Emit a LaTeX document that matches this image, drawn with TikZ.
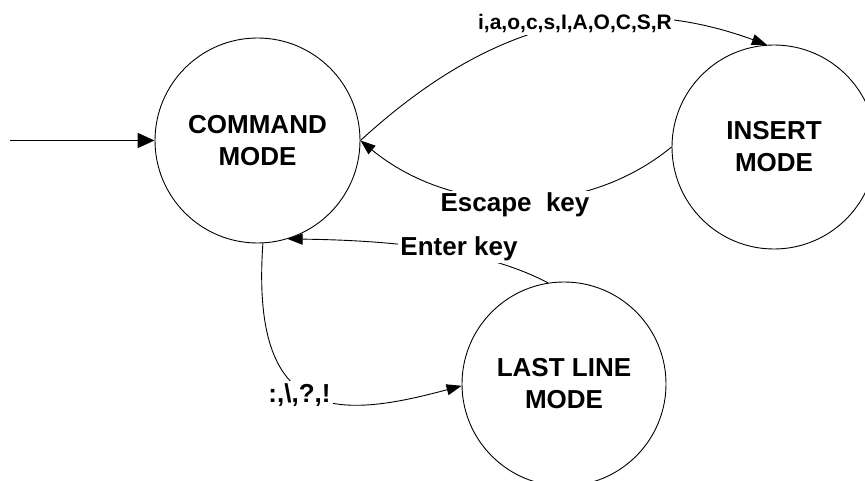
\documentclass[tikz,border=0pt]{standalone}
\usepackage{fontspec}
\setmainfont{Liberation Sans}
\usetikzlibrary{arrows.meta}

\tikzset{
  state/.style={draw, circle, line width=0.9pt, minimum size=#1, inner sep=0pt,
    align=center, font=\bfseries\fontsize{26}{32}\selectfont},
  edge/.style={line width=0.9pt, -{Triangle[length=15pt,width=11pt]}},
  startedge/.style={line width=1.8pt, -{Triangle[length=17pt,width=15pt]}},
  lbl/.style={fill=white, inner sep=2pt, anchor=base, font=\bfseries\fontsize{26}{32}\selectfont},
  smalllbl/.style={lbl, font=\bfseries\fontsize{21}{25}\selectfont}
}

\begin{document}
\begin{tikzpicture}[x=1pt, y=-1pt]
  \useasboundingbox (0,0) rectangle (865,481);

  % states
  \node[state=205pt] (cmd) at (257.5,140.5) {COMMAND\\MODE};
  \node[state=204pt] (ins) at (774,147) {INSERT\\MODE};
  \node[state=204pt] (lst) at (564,384) {LAST LINE\\MODE};

  % entry arrow
  \coordinate (init) at (10,140.5);
  \draw[startedge] (init) -- (cmd.west);

  % transitions
  \draw[edge] (cmd.east) .. controls (449,59.7) and (579,-24) .. (ins.94);
  \draw[edge] (ins.west) .. controls (581,221) and (450,214) .. (cmd.east);
  \draw[edge] (lst.99) .. controls (495,255) and (418,240.6) .. (cmd.-73);
  \draw[edge] (cmd.-87) .. controls (250.4,423) and (336,419.8) .. (lst.181);

  % transition labels
  \node[smalllbl] (l1) at (575,30) {i,a,o,c,s,I,A,O,C,S,R};
  \node[lbl] (l2) at (515,212) {Escape\ \ key};
  \node[lbl] (l3) at (459,256) {Enter key};
  \node[lbl] (l4) at (299.5,402) {:,\textbackslash,?,!};
\end{tikzpicture}
\end{document}
